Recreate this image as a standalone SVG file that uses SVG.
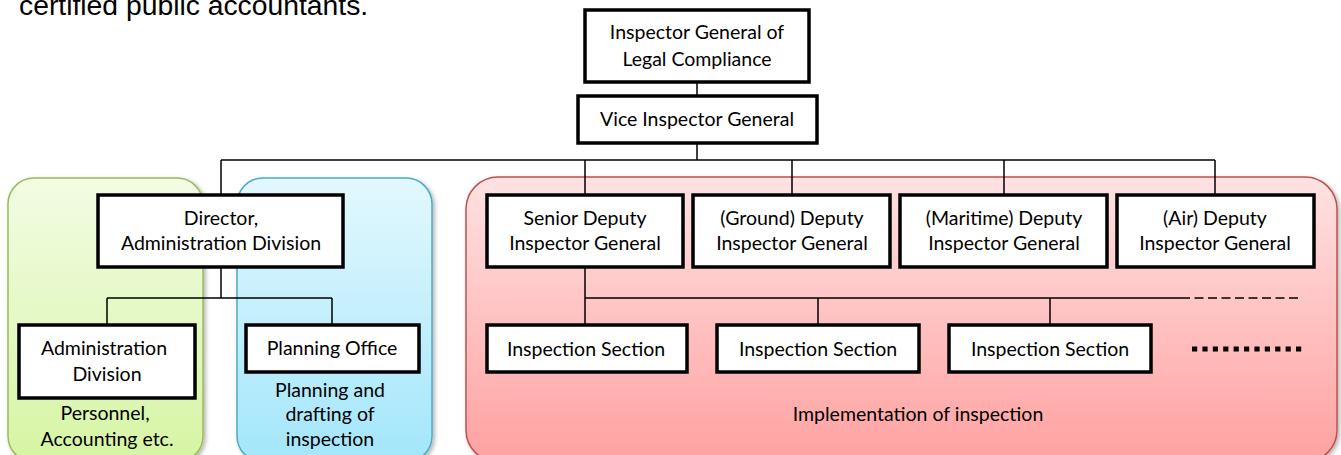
<svg xmlns="http://www.w3.org/2000/svg" width="1341" height="455" viewBox="0 0 1341 455">
<defs>
<linearGradient id="gGreen" x1="0" y1="0" x2="0" y2="1">
<stop offset="0" stop-color="#f2fce4"/><stop offset="1" stop-color="#d6f5a3"/>
</linearGradient>
<linearGradient id="gBlue" x1="0" y1="0" x2="0" y2="1">
<stop offset="0" stop-color="#e3f8fe"/><stop offset="1" stop-color="#a3e6fb"/>
</linearGradient>
<linearGradient id="gRed" x1="0" y1="0" x2="0" y2="1">
<stop offset="0" stop-color="#ffe2e2"/><stop offset="1" stop-color="#ffa1a1"/>
</linearGradient>
<filter id="sh" x="-5%" y="-5%" width="110%" height="110%">
<feDropShadow dx="2" dy="2" stdDeviation="2" flood-color="#000" flood-opacity="0.3"/>
</filter>
</defs>
<style>
.box{fill:#fff;stroke:#000;stroke-width:3.5}
.t{font-family:Lato,"Open Sans",sans-serif;font-size:19.5px;fill:#000;text-anchor:middle}
.ln{fill:none;stroke:#000;stroke-width:1.5}
</style>
<rect width="1341" height="455" fill="#fff"/>
<text x="19" y="15" font-family="Liberation Sans,Arial,sans-serif" font-size="28.3" fill="#000">certified public accountants.</text>

<g id="panels">
<rect id="panel-admin" x="8" y="178" width="195" height="284" rx="26" fill="url(#gGreen)" stroke="#9bbb59" stroke-width="1.5" filter="url(#sh)"/>
<rect id="panel-planning" x="237" y="178" width="195" height="284" rx="26" fill="url(#gBlue)" stroke="#4bacc6" stroke-width="1.5" filter="url(#sh)"/>
<rect id="panel-inspection" x="466" y="177" width="871" height="285" rx="32" fill="url(#gRed)" stroke="#c0504d" stroke-width="1.5" filter="url(#sh)"/>
</g>

<g id="connectors">
<path class="ln" d="M697 82V96M697 143V160M221 160H1215M221 160V195M585 160V195M792 160V195M1004 160V195M1215 160V195"/>
<path class="ln" d="M221 267V298M107 298H332M107 298V325M332 298V325"/>
<path class="ln" d="M585 267V325M585 298H1190M818 298V325M1050 298V325"/>
<path class="ln" d="M1190 298H1298" stroke-dasharray="9 4.5" stroke-dashoffset="-4.5"/>
<path d="M1192 349H1306" stroke="#000" stroke-width="5" stroke-dasharray="5.2 5.2"/>
</g>

<g id="n-ig"><rect class="box" x="585" y="10" width="224" height="72"/><text class="t" x="697" y="39">Inspector General of</text><text class="t" x="697" y="66">Legal Compliance</text></g>
<g id="n-vice"><rect class="box" x="578" y="96" width="239" height="47"/><text class="t" x="697" y="126">Vice Inspector General</text></g>

<g id="n-director"><rect class="box" x="98" y="195" width="245" height="72"/><text class="t" x="221" y="225">Director,</text><text class="t" x="221" y="250">Administration Division</text></g>
<g id="n-admdiv"><rect class="box" x="19" y="325" width="176" height="73"/><text class="t" x="104" y="355">Administration</text><text class="t" x="107" y="381">Division</text></g>
<g id="n-planoff"><rect class="box" x="246" y="325" width="173" height="47"/><text class="t" x="332" y="355">Planning Office</text></g>
<g id="l-admin"><text class="t" x="105" y="420">Personnel,</text><text class="t" x="107" y="446">Accounting etc.</text></g>
<g id="l-plan"><text class="t" x="330" y="397">Planning and</text><text class="t" x="330" y="421">drafting of</text><text class="t" x="330" y="446">inspection</text></g>

<g id="n-senior"><rect class="box" x="487" y="195" width="196" height="72"/><text class="t" x="585" y="225">Senior Deputy</text><text class="t" x="585" y="250">Inspector General</text></g>
<g id="n-ground"><rect class="box" x="693" y="195" width="197" height="72"/><text class="t" x="792" y="225">(Ground) Deputy</text><text class="t" x="792" y="250">Inspector General</text></g>
<g id="n-maritime"><rect class="box" x="900" y="195" width="207" height="72"/><text class="t" x="1004" y="225">(Maritime) Deputy</text><text class="t" x="1004" y="250">Inspector General</text></g>
<g id="n-air"><rect class="box" x="1117" y="195" width="197" height="72"/><text class="t" x="1215" y="225">(Air) Deputy</text><text class="t" x="1215" y="250">Inspector General</text></g>

<g id="n-sec1"><rect class="box" x="487" y="325" width="200" height="47"/><text class="t" x="586" y="356">Inspection Section</text></g>
<g id="n-sec2"><rect class="box" x="717" y="325" width="202" height="47"/><text class="t" x="818" y="356">Inspection Section</text></g>
<g id="n-sec3"><rect class="box" x="949" y="325" width="202" height="47"/><text class="t" x="1050" y="356">Inspection Section</text></g>
<g id="l-impl"><text class="t" x="918" y="421">Implementation of inspection</text></g>
</svg>
